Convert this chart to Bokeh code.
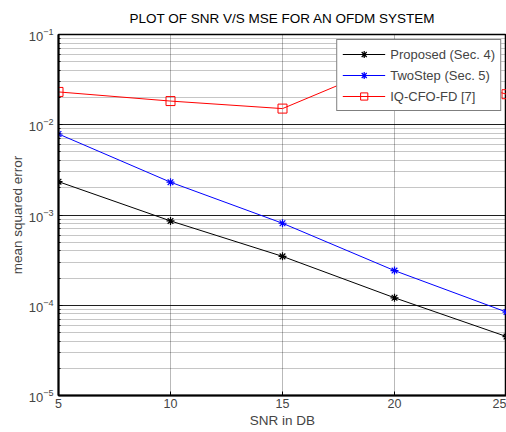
from bokeh.plotting import figure
from bokeh.models import Range1d, Legend, LegendItem, FixedTicker
from bokeh.embed import file_html
from bokeh.resources import INLINE

# ---- data ----
snr_db = [5, 10, 15, 20, 25]
mse_proposed = [2.34e-3, 8.6e-4, 3.48e-4, 1.21e-4, 4.5e-5]
mse_twostep = [7.9e-3, 2.31e-3, 8.1e-4, 2.42e-4, 8.4e-5]
mse_iqcfo = [2.31e-2, 1.83e-2, 1.51e-2, 5.0e-2, 2.18e-2]
x_ticks = [5, 10, 15, 20, 25]

FONT = "Liberation Sans"

p = figure(width=506, height=432, output_backend="svg", toolbar_location=None,
           y_axis_type="log",
           x_range=Range1d(5, 25), y_range=Range1d(1e-5, 1e-1),
           min_border_left=58, min_border_right=0, min_border_top=33,
           min_border_bottom=37)

p.title.text = "PLOT OF SNR V/S MSE FOR AN OFDM SYSTEM"
p.title.align = "center"
p.title.text_font = FONT
p.title.text_font_size = "13.5px"
p.title.text_font_style = "normal"
p.title.text_color = "black"
p.title.standoff = 17

p.outline_line_color = "black"
p.outline_line_width = 1.5
p.background_fill_color = "white"
p.border_fill_color = "white"

p.xaxis.ticker = FixedTicker(ticks=x_ticks)
p.xaxis.axis_label = "SNR in DB"
p.yaxis.axis_label = "mean squared error"
for ax in (p.xaxis, p.yaxis):
    ax.axis_label_text_font = FONT
    ax.axis_label_text_font_size = "13.5px"
    ax.axis_label_text_font_style = "normal"
    ax.major_label_text_font = FONT
    ax.axis_line_width = 2
    ax.axis_line_color = "black"
    ax.major_tick_in = 4
    ax.major_tick_out = 0
    ax.minor_tick_in = 2
    ax.minor_tick_out = 0
    ax.major_label_standoff = 3
    ax.axis_label_standoff = 2
p.xaxis.major_label_text_font_size = "12.5px"
p.yaxis.major_label_text_font_size = "13px"
p.xaxis.minor_tick_line_color = None
p.yaxis.major_label_standoff = 5
p.yaxis.axis_label_standoff = 1

p.xgrid.grid_line_color = "black"
p.xgrid.grid_line_alpha = 0.55
p.xgrid.grid_line_dash = "1 1"
p.ygrid.grid_line_color = "black"
p.ygrid.grid_line_alpha = 0.8
p.ygrid.minor_grid_line_color = "black"
p.ygrid.minor_grid_line_alpha = 0.45
p.ygrid.minor_grid_line_dash = "1 1"

l1 = p.line(snr_db, mse_proposed, line_color="black", line_width=1)
s1 = p.scatter(snr_db, mse_proposed, marker="asterisk", size=8, line_color="black", line_width=1.2)
l2 = p.line(snr_db, mse_twostep, line_color="blue", line_width=1)
s2 = p.scatter(snr_db, mse_twostep, marker="asterisk", size=8, line_color="blue", line_width=1.2)
l3 = p.line(snr_db, mse_iqcfo, line_color="red", line_width=1)
s3 = p.scatter(snr_db, mse_iqcfo, marker="square", size=9, line_color="red", fill_color=None, line_width=1)

legend = Legend(items=[
    LegendItem(label="Proposed (Sec. 4)", renderers=[l1, s1]),
    LegendItem(label="TwoStep (Sec. 5)", renderers=[l2, s2]),
    LegendItem(label="IQ-CFO-FD [7]", renderers=[l3, s3]),
], location="top_right")
legend.label_text_font = FONT
legend.label_text_font_size = "13px"
legend.border_line_color = "black"
legend.border_line_width = 1
legend.background_fill_alpha = 1
legend.padding = 5
legend.spacing = 3
legend.label_height = 18
legend.glyph_height = 18
legend.glyph_width = 43
legend.label_standoff = 5
legend.margin = 5
p.add_layout(legend)

open("out.html", "w").write(file_html(p, INLINE))
